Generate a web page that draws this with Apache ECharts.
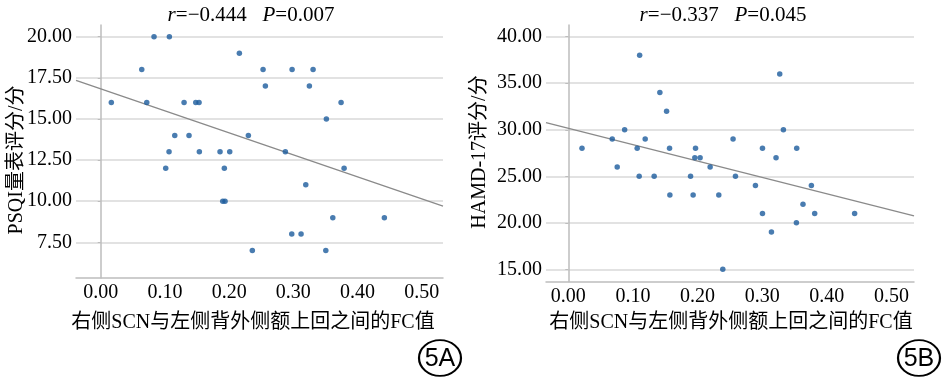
<!DOCTYPE html>
<html>
<head>
<meta charset="utf-8">
<script src="https://cdn.jsdelivr.net/npm/echarts@6/dist/echarts.min.js"></script>
<style>
html,body{margin:0;padding:0;background:#fff;}
#c{width:945px;height:382px;}
</style>
</head>
<body>
<div id="c"></div>
<script>
// ---- data ----
const fcA   = [0.0165,0.0639,0.0717,0.0830,0.1069,0.1153,0.1298,0.1375,0.1480,0.1531,0.2159,0.2299,0.2528,0.2564,0.2980,0.3249,0.3307,0.3514,0.3743,0.1012,0.1064,0.1536,0.1858,0.1925,0.1900,0.1936,0.2009,0.2361,0.2875,0.2975,0.3120,0.3193,0.3505,0.3614,0.3790,0.4417];
const psqi  = [16,18,16,20,20,14,16,14,16,16,19,14,18,17,18,17,18,15,16,12,13,13,13,12,10,10,13,7,13,8,8,11,7,9,12,9];
const fcB   = [0.0212,0.0680,0.0757,0.0872,0.1066,0.1097,0.1104,0.1190,0.1329,0.1417,0.1521,0.1567,0.1572,0.1892,0.1932,0.1969,0.1958,0.2040,0.2195,0.2329,0.2391,0.2550,0.2587,0.2896,0.3005,0.3005,0.3144,0.3215,0.3272,0.3329,0.3530,0.3535,0.3632,0.3762,0.3813,0.4431];
const hamd  = [28,29,26,30,28,25,38,29,25,34,32,28,23,25,23,28,27,27,26,23,15,29,25,24,28,21,19,27,36,30,20,28,22,24,21,21];
const fitA  = [[-0.0385,17.34],[0.533,9.70]];
const fitB  = [[-0.0345,30.78],[0.535,20.75]];
const xTicks  = [0,0.1,0.2,0.3,0.4,0.5];
const yTicksA = [7.5,10,12.5,15,17.5,20];
const yTicksB = [15,20,25,30,35,40];
const titleA = '{i|r}=\u22120.444   {i|P}=0.007';
const titleB = '{i|r}=\u22120.337   {i|P}=0.045';
const xNameA = '右侧SCN与左侧背外侧额上回之间的FC值';
const xNameB = '右侧SCN与左侧背外侧额上回之间的FC值';
const yNameA = 'PSQI量表评分/分';
const yNameB = 'HAMD-17评分/分';

const SERIF = "'Liberation Serif','Times New Roman','Noto Sans CJK SC',serif";
const dotColor = '#1b5b9c';

function xAxisCfg(idx, min, max) {
  return {
    type: 'value', gridIndex: idx, min: min, max: max,
    axisLine: {show: true, lineStyle: {color: '#bdbdbd', width: 1.5}},
    axisTick: {show: false, customValues: xTicks},
    splitLine: {show: false},
    axisLabel: {customValues: xTicks, formatter: v => v.toFixed(2), color: '#000',
      fontFamily: SERIF, fontSize: 20, margin: 5}
  };
}
function yAxisCfg(idx, min, max, ticks) {
  return {
    type: 'value', gridIndex: idx, min: min, max: max,
    axisLine: {show: true, lineStyle: {color: '#bdbdbd', width: 1.5}},
    axisTick: {show: true, length: 3, customValues: ticks, lineStyle: {color: '#bdbdbd'}},
    splitLine: {show: true, lineStyle: {color: '#d9d9d9', width: 1.5}},
    axisLabel: {customValues: ticks, formatter: v => v.toFixed(2), color: '#000',
      fontFamily: SERIF, fontSize: 20, margin: 4}
  };
}
const zip = (a, b) => a.map((v, i) => [v, b[i]]);

const chart = echarts.init(document.getElementById('c'), null, {renderer: 'canvas'});
chart.setOption({
  animation: false,
  backgroundColor: '#fff',
  title: [
    {text: titleA, left: 246, top: 0, textAlign: 'center',
     textStyle: {fontFamily: SERIF, fontSize: 21, fontWeight: 'normal', color: '#000',
       rich: {i: {fontStyle: 'italic', fontFamily: SERIF, fontSize: 21}}}},
    {text: titleB, left: 718, top: 0, textAlign: 'center',
     textStyle: {fontFamily: SERIF, fontSize: 21, fontWeight: 'normal', color: '#000',
       rich: {i: {fontStyle: 'italic', fontFamily: SERIF, fontSize: 21}}}}
  ],
  grid: [
    {left: 76, top: 25, width: 367, height: 253},
    {left: 546, top: 25, width: 368, height: 256.7}
  ],
  xAxis: [xAxisCfg(0, -0.0385, 0.533), xAxisCfg(1, -0.0345, 0.535)],
  yAxis: [yAxisCfg(0, 5.33, 20.71, yTicksA), yAxisCfg(1, 13.67, 41.26, yTicksB)],
  series: [
    {type: 'line', xAxisIndex: 0, yAxisIndex: 0, data: fitA, symbol: 'none',
     lineStyle: {color: '#8a8a8a', width: 1.3}, z: 2},
    {type: 'scatter', xAxisIndex: 0, yAxisIndex: 0, data: zip(fcA, psqi),
     symbolSize: 5.5, itemStyle: {color: dotColor}, z: 3},
    {type: 'line', xAxisIndex: 1, yAxisIndex: 1, data: fitB, symbol: 'none',
     lineStyle: {color: '#8a8a8a', width: 1.3}, z: 2},
    {type: 'scatter', xAxisIndex: 1, yAxisIndex: 1, data: zip(fcB, hamd),
     symbolSize: 5.5, itemStyle: {color: dotColor}, z: 3}
  ],
  graphic: [
    {type: 'text', x: 253, y: 323, style: {text: xNameA, font: "20px " + SERIF, fill: '#000', align: 'center', verticalAlign: 'middle'}},
    {type: 'text', x: 731, y: 323, style: {text: xNameB, font: "20px " + SERIF, fill: '#000', align: 'center', verticalAlign: 'middle'}},
    {type: 'text', x: 17, y: 160, rotation: Math.PI / 2, style: {text: yNameA, font: "20px " + SERIF, fill: '#000', align: 'center', verticalAlign: 'middle'}},
    {type: 'text', x: 480, y: 152, rotation: Math.PI / 2, style: {text: yNameB, font: "20px " + SERIF, fill: '#000', align: 'center', verticalAlign: 'middle'}},
    {type: 'circle', x: 440, y: 358, scaleY: 0.85, shape: {cx: 0, cy: 0, r: 21}, style: {fill: 'none', stroke: '#000', lineWidth: 2.2}},
    {type: 'text', x: 440, y: 359, style: {text: '5A', font: "25px 'Liberation Sans',Arial,sans-serif", fill: '#000', align: 'center', verticalAlign: 'middle'}},
    {type: 'circle', x: 919, y: 358, scaleY: 0.85, shape: {cx: 0, cy: 0, r: 21}, style: {fill: 'none', stroke: '#000', lineWidth: 2.2}},
    {type: 'text', x: 919, y: 359, style: {text: '5B', font: "25px 'Liberation Sans',Arial,sans-serif", fill: '#000', align: 'center', verticalAlign: 'middle'}}
  ]
});
</script>
</body>
</html>
